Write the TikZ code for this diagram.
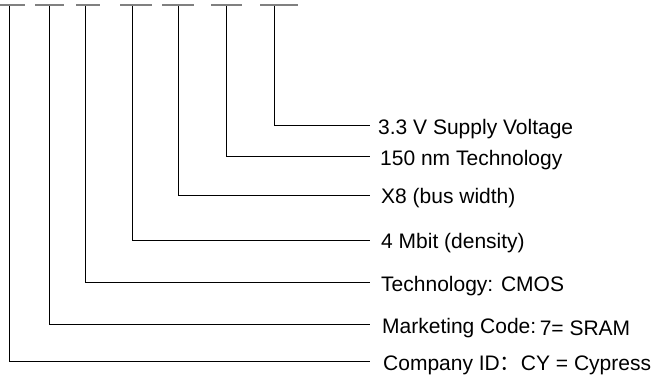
\documentclass[tikz,border=0pt]{standalone}
\usepackage{fontspec}
\setmainfont{Liberation Sans}
\newfontfamily\cjk{Noto Sans CJK SC}
\begin{document}
\begin{tikzpicture}[x=1pt,y=-1pt,
  bar/.style={draw=black!50,line width=2pt},
  lead/.style={draw=black,line width=0.9pt},
  lbl/.style={anchor=base west,inner sep=0pt,font=\fontsize{21}{24}\selectfont}]
\useasboundingbox (0,0) rectangle (653,379);
% top underline bars
\foreach \a/\b [count=\i] in {0/25,35/64,76/100,120/152,162/194,211/242,260/298}
  \draw[bar] (\a,5.5) -- (\b,5.5);
% top coordinates of leads
\foreach \x/\n in {9/a,49/b,85/c,132/d,178/e,226/f,274/g}
  \coordinate (t\n) at (\x,6);
% labels
\node[lbl] (lg) at (378,135) {3.3 V Supply Voltage};
\node[lbl] (lf) at (380,166) {150 nm Technology};
\node[lbl] (le) at (381,204) {X8 (bus width)};
\node[lbl] (ld) at (381,249) {4 Mbit (density)};
\node[lbl] (lc) at (381,291) {Technology: CMOS};
\node[lbl] (lb) at (382,333) {Marketing Code:\,\raisebox{-2pt}{7= SRAM}};
\node[lbl] (la) at (383,370) {Company ID{\cjk ：}CY = Cypress};
% line end coordinates
\foreach \n/\y in {g/125,f/156,e/195,d/240,c/282,b/324,a/361}
  \coordinate (e\n) at (370,\y);
\foreach \n in {a,b,c,d,e,f,g}
  \draw[lead] (t\n) |- (e\n);
\end{tikzpicture}
\end{document}
